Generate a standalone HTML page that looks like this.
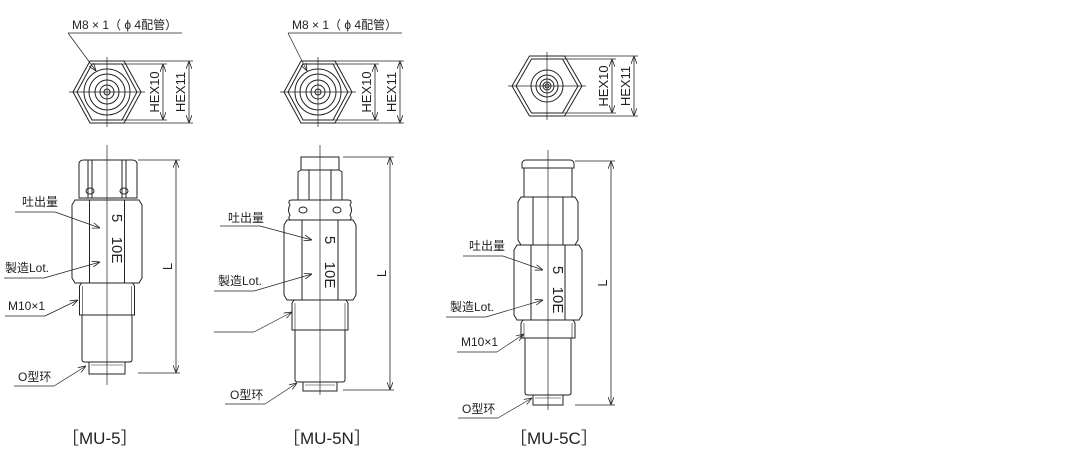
<!DOCTYPE html><html><head><meta charset="utf-8"><style>body{margin:0;background:#fff}svg{display:block}text{font-family:"Liberation Sans","Noto Sans CJK SC",sans-serif;fill:#222}</style></head><body>
<svg id="s" width="1073" height="464" viewBox="0 0 1073 464" xmlns="http://www.w3.org/2000/svg">
<defs><marker id="a" markerWidth="8" markerHeight="6" refX="8" refY="3" orient="auto" markerUnits="userSpaceOnUse"><path d="M0,0L8,3L0,6" fill="none" stroke="#222" stroke-width="0.8"/></marker>
<marker id="b" markerWidth="8" markerHeight="6" refX="0" refY="3" orient="auto" markerUnits="userSpaceOnUse"><path d="M8,0L0,3L8,6" fill="none" stroke="#222" stroke-width="0.8"/></marker></defs>
<g id="g" fill="none" stroke="#222" stroke-width="1"></g>
<g id="t" font-size="12"></g>
</svg>
<script>
(function(){
const g=document.getElementById('g'),t=document.getElementById('t');
function el(p,tag,at,txt){const e=document.createElementNS('http://www.w3.org/2000/svg',tag);for(const k in at)e.setAttribute(k,at[k]);if(txt)e.textContent=txt;p.appendChild(e);return e;}
function L(x1,y1,x2,y2,o){return el(g,'line',Object.assign({x1:x1,y1:y1,x2:x2,y2:y2},o||{}));}
function P(d,o){return el(g,'path',Object.assign({d:d},o||{}));}
function R(x1,y1,x2,y2){P(`M${x1},${y1}H${x2}V${y2}H${x1}Z`);}
function T(x,y,s,o){return el(t,'text',Object.assign({x:x,y:y},o||{}),s);}
function hexpts(cx,cy,r,h){return `M${cx-r},${cy}L${cx-r/2},${cy-h}H${cx+r/2}L${cx+r},${cy}L${cx+r/2},${cy+h}H${cx-r/2}Z`;}
function topView(cx,cy,r,h,circ,d1,d2,lab){
 P(hexpts(cx,cy,r,h));P(hexpts(cx,cy,r-4,h-3));
 circ.forEach(c=>el(g,'circle',{cx:cx,cy:cy,r:c}));
 L(cx-r-4,cy,cx+r+4,cy,{'stroke-width':0.7});L(cx,cy-h-4,cx,cy+h+4,{'stroke-width':0.7});
 L(cx+r/2,cy-h,d2+4,cy-h,{'stroke-width':0.7});L(cx+r/2,cy+h,d2+4,cy+h,{'stroke-width':0.7});
 L(cx+r/2-2,cy-h+3,d1+4,cy-h+3,{'stroke-width':0.7});L(cx+r/2-2,cy+h-3,d1+4,cy+h-3,{'stroke-width':0.7});
 L(d1,cy-h+3,d1,cy+h-3,{'stroke-width':0.8,'marker-start':'url(#b)','marker-end':'url(#a)'});
 L(d2,cy-h,d2,cy+h,{'stroke-width':0.8,'marker-start':'url(#b)','marker-end':'url(#a)'});
 T(d1-4,cy,'HEX10',{transform:`rotate(-90 ${d1-4} ${cy})`,'text-anchor':'middle','font-size':13});
 T(d2-4,cy,'HEX11',{transform:`rotate(-90 ${d2-4} ${cy})`,'text-anchor':'middle','font-size':13});
 if(lab){T(lab[0],29,'M8 × 1（ ϕ 4配管）',{'font-size':12});L(lab[0]-4,33,lab[0]+110,33,{'stroke-width':0.7});L(lab[0]-4,33,cx-r/2+6,cy-h+10,{'stroke-width':0.7,'marker-end':'url(#a)'});}
}
function hexbody(cx,y1,y2,w){const x1=cx-w/2,x2=cx+w/2;P(`M${x1+3},${y1}H${x2-3}L${x2},${y1+5}V${y2-5}L${x2-3},${y2}H${x1+3}L${x1},${y2-5}V${y1+5}Z`);L(cx-w/4,y1,cx-w/4,y2);L(cx+w/4,y1,cx+w/4,y2);}
function lead(tx,ty,s,lx,ly,ex,ey){if(s)T(tx,ty,s);L(lx,ly,lx+40,ly,{'stroke-width':0.7});L(lx+40,ly,ex,ey,{'stroke-width':0.7,'marker-end':'url(#a)'});}
function nums(cx,y5,y10){T(cx,y5,'5',{transform:`rotate(90 ${cx} ${y5})`,'text-anchor':'middle','font-size':15,dy:-5});T(cx,y10,'10E',{transform:`rotate(90 ${cx} ${y10})`,'text-anchor':'middle','font-size':15,dy:-5});}
function Ldim(x,y1,y2,xe){L(xe,y1,x+4,y1,{'stroke-width':0.7});L(xe,y2,x+4,y2,{'stroke-width':0.7});L(x,y1,x,y2,{'stroke-width':0.8,'marker-start':'url(#b)','marker-end':'url(#a)'});T(x-4,(y1+y2)/2,'L',{transform:`rotate(-90 ${x-4} ${(y1+y2)/2})`,'text-anchor':'middle','font-size':13});}
function thread(cx,y1,y2,w){const x1=cx-w/2,x2=cx+w/2;P(`M${x1+2},${y1}H${x2-2}L${x2},${y1+3}V${y2}H${x1}V${y1+3}Z`);L(x1+3,y1+3,x1+3,y2,{'stroke-width':0.6});L(x2-3,y1+3,x2-3,y2,{'stroke-width':0.6});}
function lower(cx,y1,y2,w,ow,oy){const x1=cx-w/2,x2=cx+w/2;P(`M${x1},${y1}V${y2-2}Q${x1},${y2} ${x1+3},${y2}H${x2-3}Q${x2},${y2} ${x2},${y2-2}V${y1}`);R(cx-ow/2,y2,cx+ow/2,oy);L(cx-ow/2+2,y2+3,cx+ow/2-2,y2+3,{'stroke-width':0.6});}
// MU-5
topView(107,92,34,31,[23,18,12,7,3],163,189,[72]);
L(107,145,107,385,{'stroke-width':0.7});
P('M79,163Q80,160 84,160H132Q136,160 137,163V198H79Z');L(88,160,88,198);L(92,160,92,198);L(122,160,122,198);L(126,160,126,198);
el(g,'ellipse',{cx:90,cy:191,rx:4,ry:3});el(g,'ellipse',{cx:124,cy:191,rx:4,ry:3});
hexbody(107,200,283,70);thread(107,283,315,55);lower(107,315,362,50,36,374);
Ldim(176,160,373,138);nums(107,218,250);
lead(22,206,'吐出量',15,212,100,228);lead(5,272,'製造Lot.',4,278,100,262);lead(8,310,'M10×1',5,316,78,300);lead(18,381,'O型环',14,386,86,366);
// MU-5N
topView(318,92,34,31,[23,18,12,7,3],375,400,[292]);
L(320,145,320,395,{'stroke-width':0.7});
R(301,157,339,170);P('M298,172L301,170H339L342,172V200H298Z');L(309,170,309,200);L(331,170,331,200);
P('M290,205Q287,210 290,215Q287,220 292,220H348Q353,220 350,215Q353,210 350,205Q353,200 348,200H292Q287,200 290,205Z');
el(g,'ellipse',{cx:303,cy:210,rx:4,ry:3});el(g,'ellipse',{cx:337,cy:210,rx:4,ry:3});
hexbody(320,220,300,72);thread(320,300,330,56);lower(320,330,382,50,34,391);
Ldim(390,157,390,343);nums(320,240,275);
lead(228,222,'吐出量',220,226,312,240);lead(218,285,'製造Lot.',214,291,312,274);lead(0,0,'',214,332,292,312);lead(230,399,'O型环',225,404,297,383);
// MU-5C
topView(547,86,35,30,[16,11,7,4,2],612,634,null);
L(548,150,548,410,{'stroke-width':0.7});
P('M522,163Q523,160 526,160H570Q573,160 574,163V168H522Z');
R(524,168,572,197);hexbody(548,197,245,60);hexbody(548,245,320,68);thread(548,320,338,54);lower(548,338,395,46,30,405);
Ldim(611,161,405,575);nums(548,270,300);
lead(469,250,'吐出量',463,256,543,270);lead(450,311,'製造Lot.',446,317,543,300);lead(461,346,'M10×1',457,352,524,334);lead(462,413,'O型环',458,418,532,398);
T(62,444,'［MU-5］',{'font-size':17,fill:'#333'});T(283,444,'［MU-5N］',{'font-size':17,fill:'#333'});T(510,444,'［MU-5C］',{'font-size':17,fill:'#333'});
})();
</script></body></html>
